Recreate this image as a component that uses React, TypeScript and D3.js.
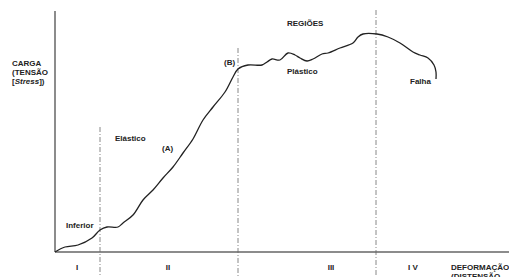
import React, { useRef, useEffect } from "react";
import * as d3 from "d3";

// curve (strain, load) in chart units
const strain = [0, 10, 23, 37, 45, 52, 63, 68, 78, 88, 98, 108, 118, 128, 138, 148, 158, 170, 178, 183, 193, 207, 212, 217, 225, 233, 240, 245, 252, 258, 267, 273, 285, 298, 303, 308, 322, 333, 345, 358, 365, 373, 379, 381, 381];
const load = [0, 5, 7, 14, 22, 25, 25, 29, 37, 52, 62, 74, 85, 99, 113, 132, 145, 160, 175, 183, 187, 187, 190, 193, 192, 199, 197, 194, 191, 193, 198, 199, 204, 209, 215, 218, 218, 215, 209, 200, 197, 194, 187, 180, 173];

// region dividers
const dividerAt = [45, 183, 321];
const dividerTop = [125, 204, 242];
const regionNames = ["I", "II", "III", "I V"];
const regionCenters = [22, 113, 276, 358];

const labels = [
  { text: "Inferior", s: 11, l: 24 },
  { text: "Elástico", s: 60, l: 111 },
  { text: "(A)", s: 107, l: 101 },
  { text: "(B)", s: 169, l: 187 },
  { text: "REGIÕES", s: 232, l: 226 },
  { text: "Plástico", s: 232, l: 178 },
  { text: "Falha", s: 355, l: 168 },
];

const ChartCurve = () => {
  const svgRef = useRef();

  useEffect(() => {
    const svg = d3.select(svgRef.current);
    svg.selectAll("*").remove();
    const width = 509;
    const height = 277;
    const margin = { top: 11, right: 2, bottom: 25, left: 55 };
    svg.attr("width", width).attr("height", height);

    const x = d3.scaleLinear().domain([0, 452]).range([margin.left, margin.left + 452]);
    const y = d3.scaleLinear().domain([0, 241]).range([height - margin.bottom, margin.top]);

    const font = "'Liberation Sans', Arial, sans-serif";

    // clipped caption at the top, only descenders show
    svg
      .append("text")
      .attr("x", 2)
      .attr("y", -3)
      .style("font-family", font)
      .style("font-size", "13px")
      .style("font-weight", "bold")
      .text("(Comportamento de carga)");

    // dividers
    dividerAt.forEach((d, i) => {
      svg
        .append("line")
        .attr("x1", x(d))
        .attr("x2", x(d))
        .attr("y1", y(dividerTop[i]))
        .attr("y2", height)
        .attr("stroke", "#888")
        .attr("stroke-width", 1)
        .attr("stroke-dasharray", "5,2,1,2");
    });

    // axes
    svg
      .append("line")
      .attr("x1", x(0))
      .attr("x2", x(0))
      .attr("y1", y(241))
      .attr("y2", y(0))
      .attr("stroke", "#666")
      .attr("stroke-width", 1.5);
    svg
      .append("line")
      .attr("x1", x(0))
      .attr("x2", width)
      .attr("y1", y(0))
      .attr("y2", y(0))
      .attr("stroke", "#666")
      .attr("stroke-width", 1.5);

    const pts = strain.map((s, i) => [s, load[i]]);
    const line = d3
      .line()
      .x((d) => x(d[0]))
      .y((d) => y(d[1]))
      .curve(d3.curveCatmullRom.alpha(0.5));

    svg
      .append("path")
      .attr("d", line(pts))
      .attr("fill", "none")
      .attr("stroke", "#222")
      .attr("stroke-width", 1.3);

    const txt = (t, px, py, anchor = "start", style = "normal") =>
      svg
        .append("text")
        .attr("x", px)
        .attr("y", py)
        .attr("text-anchor", anchor)
        .style("font-family", font)
        .style("font-size", "8px")
        .style("font-weight", "bold")
        .style("font-style", style)
        .style("fill", "#222")
        .text(t);

    labels.forEach((d) => txt(d.text, x(d.s), y(d.l)));

    // y axis title
    txt("CARGA", 12, 66);
    txt("(TENSÃO", 12, 75);
    const t3 = txt("[", 12, 84);
    t3.append("tspan").style("font-style", "italic").text("Stress");
    t3.append("tspan").text("])");

    regionNames.forEach((r, i) => txt(r, x(regionCenters[i]), 270, "middle"));

    txt("DEFORMAÇÃO", 451, 270);
    txt("(DISTENSÃO", 451, 279);
  }, []);

  return <svg ref={svgRef} style={{ position: "absolute", left: 0, top: 0 }}></svg>;
};

export default function App() {
  return <ChartCurve />;
}
